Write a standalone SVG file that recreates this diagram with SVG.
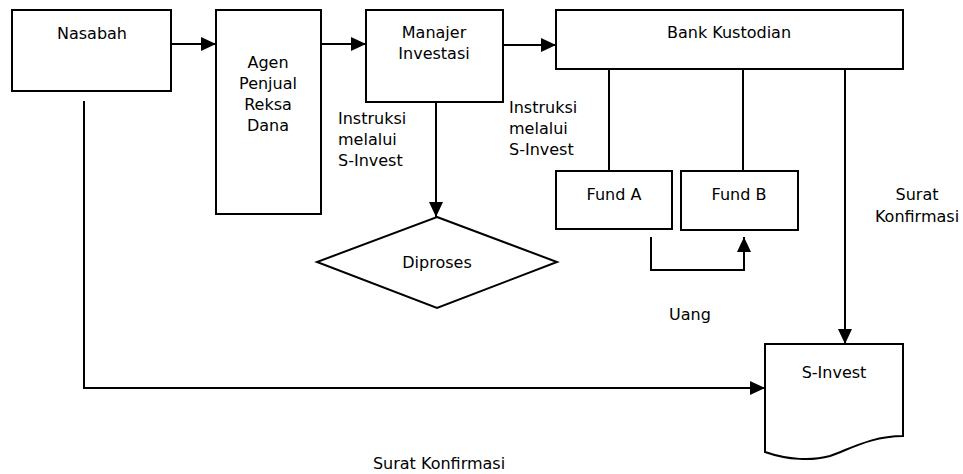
<svg xmlns="http://www.w3.org/2000/svg" width="963" height="474" viewBox="0 0 963 474">
<defs>
<marker id="arr" markerWidth="15" markerHeight="14" refX="15" refY="7" orient="auto" markerUnits="userSpaceOnUse">
<path d="M0,0 L15,7 L0,14 Z" fill="#000"/>
</marker>
<style>
.box{fill:#fff;stroke:#000;stroke-width:2}
.ln{fill:none;stroke:#000;stroke-width:2}
text{font-family:"DejaVu Sans","Liberation Sans",sans-serif;font-size:16px;fill:#000}
.c{text-anchor:middle}
</style>
</defs>
<rect width="963" height="474" fill="#fff"/>
<g id="connectors">
<path class="ln" d="M171,44 H216" marker-end="url(#arr)"/>
<path class="ln" d="M321,44 H366" marker-end="url(#arr)"/>
<path class="ln" d="M503,45 H556" marker-end="url(#arr)"/>
<path class="ln" d="M436,102 V217" marker-end="url(#arr)"/>
<path class="ln" d="M609,69 V171"/>
<path class="ln" d="M743,69 V171"/>
<path class="ln" d="M845,69 V344" marker-end="url(#arr)"/>
<path class="ln" d="M651,237 V270 H744 V237" marker-end="url(#arr)"/>
<path class="ln" d="M84,101 V388 H765" marker-end="url(#arr)"/>
</g>
<g id="nasabah">
<rect class="box" x="12" y="10" width="159" height="81"/>
<text class="c" x="92" y="39">Nasabah</text>
</g>
<g id="agen">
<rect class="box" x="216" y="10" width="105" height="204"/>
<text class="c" x="268" y="68">Agen</text>
<text class="c" x="268" y="89">Penjual</text>
<text class="c" x="268" y="110">Reksa</text>
<text class="c" x="268" y="131">Dana</text>
</g>
<g id="manajer">
<rect class="box" x="366" y="10" width="137" height="92"/>
<text class="c" x="434" y="38">Manajer</text>
<text class="c" x="434" y="59">Investasi</text>
</g>
<g id="bank">
<rect class="box" x="556" y="10" width="347" height="59"/>
<text class="c" x="729" y="38">Bank Kustodian</text>
</g>
<g id="fundA">
<rect class="box" x="556" y="171" width="116" height="58"/>
<text class="c" x="614" y="200">Fund A</text>
</g>
<g id="fundB">
<rect class="box" x="681" y="171" width="117" height="59"/>
<text class="c" x="739" y="200">Fund B</text>
</g>
<g id="diproses">
<polygon class="box" points="437,217 557,262 437,308 317,262"/>
<text class="c" x="437" y="268">Diproses</text>
</g>
<g id="sinvest">
<path class="box" d="M765,344 H903 V436 C872,436 850,449 830,456 C812,461 788,460 765,452 Z"/>
<text class="c" x="834" y="378">S-Invest</text>
</g>
<g id="labels">
<text x="338" y="124">Instruksi</text>
<text x="338" y="145">melalui</text>
<text x="338" y="166">S-Invest</text>
<text x="509" y="113">Instruksi</text>
<text x="509" y="134">melalui</text>
<text x="509" y="155">S-Invest</text>
<text class="c" x="917" y="200">Surat</text>
<text class="c" x="917" y="222">Konfirmasi</text>
<text class="c" x="690" y="320">Uang</text>
<text class="c" x="439" y="469">Surat Konfirmasi</text>
</g>
</svg>
